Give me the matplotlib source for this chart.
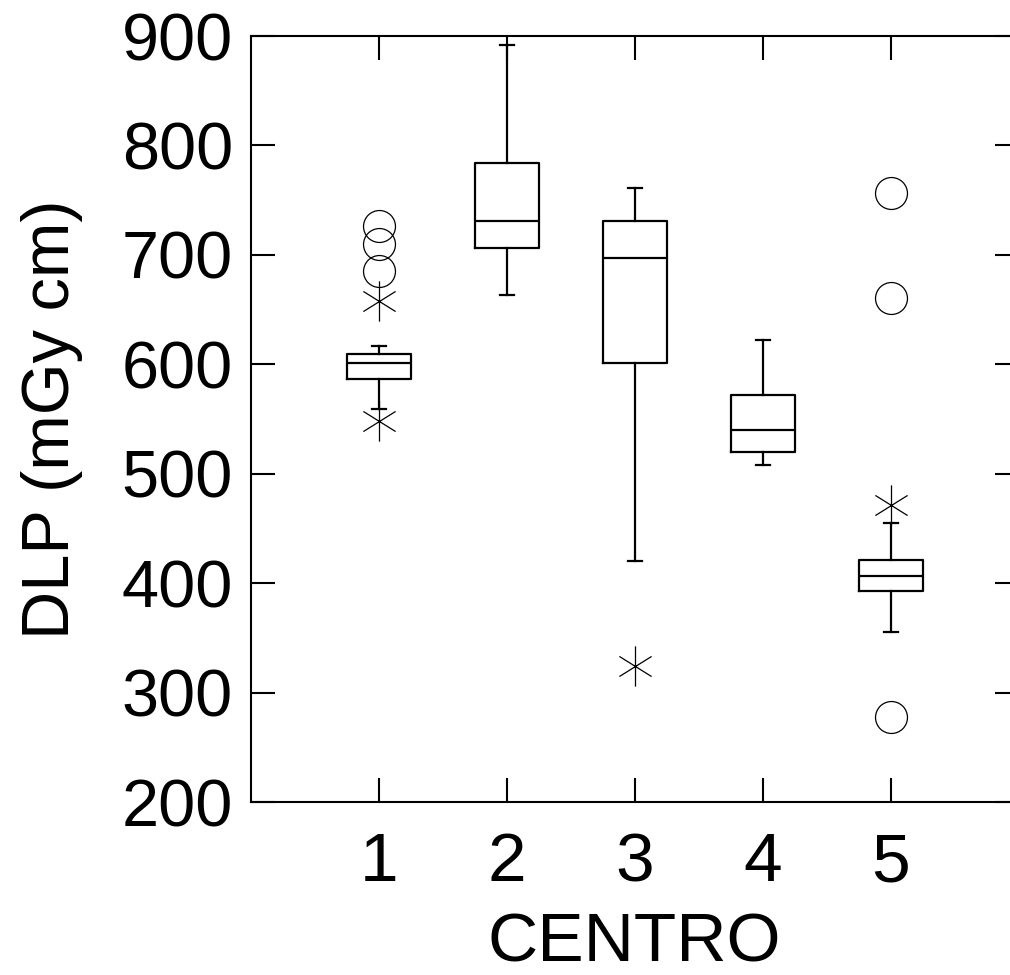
import numpy as np
import matplotlib
matplotlib.use("Agg")
import matplotlib.pyplot as plt
from matplotlib.path import Path

# DLP per centre
centros = [1, 2, 3, 4, 5]
q1 = [587, 706, 601, 520, 393]
med = [601, 731, 697, 540, 407]
q3 = [609, 784, 731, 572, 421]
wlo = [559, 663, 420, 508, 355]
whi = [617, 892, 761, 622, 455]

# outliers: circles (far) and stars (near)
circ_x = [1, 1, 1, 5, 5, 5]
circ_y = [726, 710, 685, 757, 661, 278]
star_x = [1, 1, 3, 5]
star_y = [658, 548, 324, 471]

plt.rcParams['font.family'] = ['Liberation Sans', 'DejaVu Sans']

fig = plt.figure(figsize=(10.10, 9.75), dpi=100)
ax = fig.add_axes([0.2485, 0.1774, 0.760, 0.7856])

stats = []
for i in range(len(centros)):
    stats.append(dict(med=med[i], q1=q1[i], q3=q3[i], whislo=wlo[i], whishi=whi[i], fliers=[]))

lw = 1.6
ax.bxp(stats, positions=centros, widths=0.5, capwidths=0.11, showfliers=False,
       boxprops=dict(color='black', linewidth=lw),
       medianprops=dict(color='black', linewidth=lw),
       whiskerprops=dict(color='black', linewidth=lw),
       capprops=dict(color='black', linewidth=lw))

# asterisk-like marker: vertical stroke with two flat diagonals
star = Path([(0, -1), (0, 1), (-0.8, -0.5), (0.8, 0.5), (-0.8, 0.5), (0.8, -0.5)],
            [Path.MOVETO, Path.LINETO, Path.MOVETO, Path.LINETO, Path.MOVETO, Path.LINETO])

ax.plot(circ_x, circ_y, linestyle='none', marker='o', markersize=23,
        markerfacecolor='none', markeredgecolor='black', markeredgewidth=0.9)
ax.plot(star_x, star_y, linestyle='none', marker=star, markersize=29,
        markerfacecolor='none', markeredgecolor='black', markeredgewidth=0.9)

ax.set_xlim(0, 6)
ax.set_ylim(200, 900)
ax.set_xticks(centros)
ax.set_xticklabels([str(c) for c in centros])
ax.set_yticks(range(200, 901, 100))

for s in ax.spines.values():
    s.set_linewidth(1.5)

ax.tick_params(axis='both', direction='in', length=17, width=1.5)
ax.tick_params(axis='x', top=True, pad=21, labelsize=50)
ax.tick_params(axis='y', right=True, pad=13, labelsize=48)

ax.set_xlabel('CENTRO', fontsize=50, labelpad=12)
ax.set_ylabel('DLP (mGy cm)', fontsize=48, labelpad=28)

fig.savefig('out.png', dpi=100)
